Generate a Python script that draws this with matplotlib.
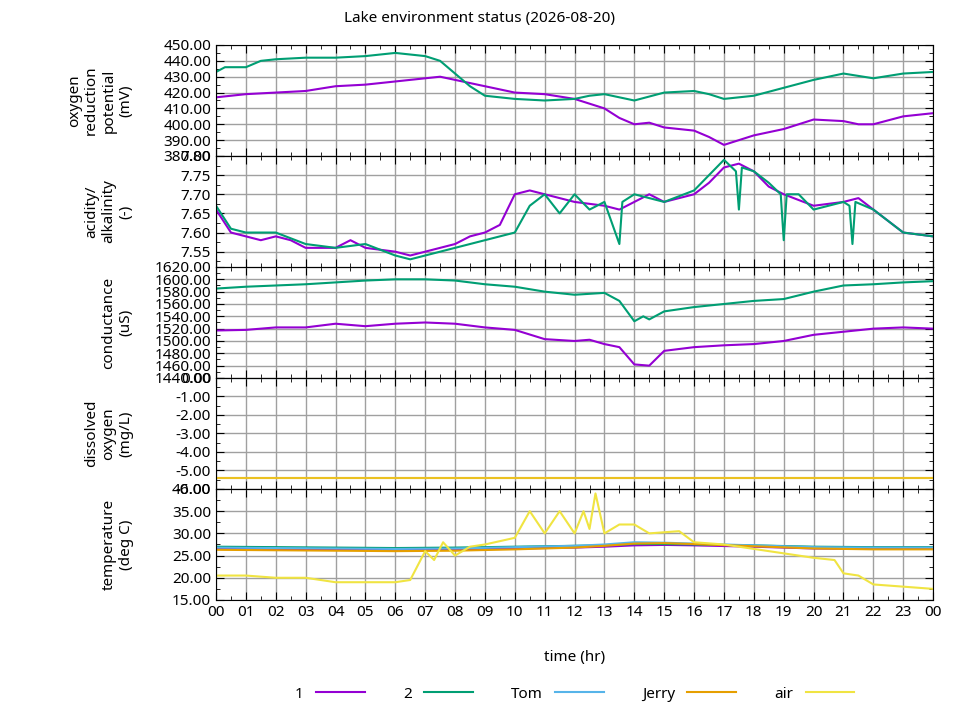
import numpy as np
import matplotlib.pyplot as plt
from matplotlib.ticker import MultipleLocator, AutoMinorLocator

plt.rcParams['font.family'] = ['Noto Sans', 'DejaVu Sans']
plt.rcParams['font.size'] = 11

COL_1 = "#9400D3"
COL_2 = "#009E73"
COL_TOM = "#56B4E9"
COL_JERRY = "#E69F00"
COL_AIR = "#F0E442"

# oxygen reduction potential (mV)
orp_t1 = [0, 0.5, 1, 2, 3, 4, 5, 6, 7, 7.5, 8, 9, 10, 11, 12, 12.5, 13, 13.5, 14, 14.5, 15, 16, 16.5, 17, 17.5, 18, 19, 20, 21, 21.5, 22, 23, 24]
orp_1 = [417, 418, 419, 420, 421, 424, 425, 427, 429, 430, 428, 424, 420, 419, 416, 413, 410, 404, 400, 401, 398, 396, 392, 387, 390, 393, 397, 403, 402, 400, 400, 405, 407]
orp_t2 = [0, 0.3, 1, 1.5, 2, 3, 4, 5, 6, 7, 7.5, 8, 8.5, 9, 10, 11, 12, 12.5, 13, 14, 15, 16, 16.5, 17, 18, 19, 20, 21, 22, 23, 24]
orp_2 = [433, 436, 436, 440, 441, 442, 442, 443, 445, 443, 440, 432, 424, 418, 416, 415, 416, 418, 419, 415, 420, 421, 419, 416, 418, 423, 428, 432, 429, 432, 433]

# acidity / alkalinity (-)
ph_t1 = [0, 0.5, 1, 1.5, 2, 2.5, 3, 4, 4.5, 5, 6, 6.5, 7, 8, 8.5, 9, 9.5, 10, 10.5, 11, 12, 13, 13.5, 14, 14.5, 15, 16, 16.5, 17, 17.5, 18, 18.5, 19, 20, 21, 21.5, 22, 23, 24]
ph_1 = [7.66, 7.60, 7.59, 7.58, 7.59, 7.58, 7.56, 7.56, 7.58, 7.56, 7.55, 7.54, 7.55, 7.57, 7.59, 7.60, 7.62, 7.70, 7.71, 7.70, 7.68, 7.67, 7.66, 7.68, 7.70, 7.68, 7.70, 7.73, 7.77, 7.78, 7.76, 7.72, 7.70, 7.67, 7.68, 7.69, 7.66, 7.60, 7.59]
ph_t2 = [0, 0.5, 1, 2, 3, 4, 5, 6, 6.5, 7, 8, 9, 10, 10.5, 11, 11.5, 12, 12.5, 13, 13.5, 13.6, 14, 14.5, 15, 16, 16.5, 17, 17.4, 17.5, 17.6, 18, 18.5, 18.9, 19.0, 19.1, 19.5, 20, 21, 21.2, 21.3, 21.4, 22, 23, 24]
ph_2 = [7.67, 7.61, 7.60, 7.60, 7.57, 7.56, 7.57, 7.54, 7.53, 7.54, 7.56, 7.58, 7.60, 7.67, 7.70, 7.65, 7.70, 7.66, 7.68, 7.57, 7.68, 7.70, 7.69, 7.68, 7.71, 7.75, 7.79, 7.76, 7.66, 7.77, 7.76, 7.73, 7.70, 7.58, 7.70, 7.70, 7.66, 7.68, 7.67, 7.57, 7.68, 7.66, 7.60, 7.59]

# conductance (uS)
cond_t1 = [0, 1, 2, 3, 4, 5, 6, 7, 8, 9, 10, 11, 12, 12.5, 13, 13.5, 14, 14.5, 15, 16, 17, 18, 19, 20, 21, 22, 23, 24]
cond_1 = [1517, 1518, 1522, 1522, 1528, 1524, 1528, 1530, 1528, 1522, 1518, 1503, 1500, 1502, 1495, 1490, 1462, 1460, 1484, 1490, 1493, 1495, 1500, 1510, 1515, 1520, 1522, 1520]
cond_t2 = [0, 1, 2, 3, 4, 5, 6, 7, 8, 9, 10, 11, 12, 13, 13.5, 14, 14.3, 14.5, 15, 16, 17, 18, 19, 20, 21, 22, 23, 24]
cond_2 = [1585, 1588, 1590, 1592, 1595, 1598, 1600, 1600, 1598, 1592, 1588, 1580, 1575, 1578, 1565, 1532, 1540, 1535, 1548, 1555, 1560, 1565, 1568, 1580, 1590, 1592, 1595, 1597]

# dissolved oxygen (mg/L)
do_t = [0, 24]
do_tom = [0.0, 0.0]
do_jerry = [-5.4, -5.4]
do_air = [-5.4, -5.4]

# temperature (deg C)
temp_t = [0, 2, 4, 6, 8, 10, 12, 13, 14, 15, 16, 18, 20, 22, 24]
temp_1 = [26.6, 26.5, 26.4, 26.3, 26.4, 26.6, 26.8, 27.0, 27.3, 27.4, 27.3, 27.0, 26.6, 26.5, 26.5]
temp_2 = [27.0, 26.9, 26.8, 26.7, 26.8, 27.0, 27.2, 27.3, 27.6, 27.6, 27.5, 27.3, 27.0, 26.9, 26.9]
temp_tom = [26.8, 26.7, 26.6, 26.5, 26.6, 26.9, 27.2, 27.5, 28.0, 27.9, 27.7, 27.3, 26.9, 26.8, 26.8]
temp_jerry = [26.3, 26.2, 26.1, 26.0, 26.1, 26.4, 26.8, 27.2, 27.7, 27.8, 27.6, 27.1, 26.6, 26.4, 26.4]
air_t = [0, 1, 2, 3, 4, 5, 6, 6.5, 7, 7.3, 7.6, 8, 8.5, 9, 10, 10.5, 11, 11.5, 12, 12.3, 12.5, 12.7, 13, 13.5, 14, 14.5, 15.5, 16, 17, 18, 19, 20, 20.7, 21, 21.5, 22, 23, 24]
air = [20.5, 20.5, 20.0, 20.0, 19.0, 19.0, 19.0, 19.5, 26.0, 24.0, 28.0, 25.0, 27.0, 27.5, 29.0, 35.0, 30.0, 35.0, 30.0, 35.0, 31.0, 39.0, 30.0, 32.0, 32.0, 30.0, 30.5, 28.0, 27.5, 26.5, 25.5, 24.5, 24.0, 21.0, 20.5, 18.5, 18.0, 17.5]

fig, axes = plt.subplots(5, 1, figsize=(9.6, 7.2), dpi=100, sharex=True)
fig.subplots_adjust(left=0.225, right=0.972, top=0.9375, bottom=0.1667, hspace=0)

info = [
    ("oxygen\nreduction\npotential\n(mV)", (380, 450), 10),
    ("acidity/\nalkalinity\n(-)", (7.51, 7.80), 0.05),
    ("conductance\n(uS)", (1440, 1620), 20),
    ("dissolved\noxygen\n(mg/L)", (-6, 0), 1),
    ("temperature\n(deg C)", (15, 40), 5),
]

lw = 1.5
axes[0].plot(orp_t1, orp_1, color=COL_1, lw=lw)
axes[0].plot(orp_t2, orp_2, color=COL_2, lw=lw)
axes[1].plot(ph_t1, ph_1, color=COL_1, lw=lw)
axes[1].plot(ph_t2, ph_2, color=COL_2, lw=lw)
axes[2].plot(cond_t1, cond_1, color=COL_1, lw=lw)
axes[2].plot(cond_t2, cond_2, color=COL_2, lw=lw)
axes[3].plot(do_t, do_tom, color=COL_TOM, lw=lw)
axes[3].plot(do_t, do_jerry, color=COL_JERRY, lw=lw)
axes[3].plot(do_t, do_air, color=COL_AIR, lw=lw, alpha=0.5)
axes[4].plot(temp_t, temp_1, color=COL_1, lw=lw, label="1")
axes[4].plot(temp_t, temp_2, color=COL_2, lw=lw, label="2")
axes[4].plot(temp_t, temp_tom, color=COL_TOM, lw=lw, label="Tom")
axes[4].plot(temp_t, temp_jerry, color=COL_JERRY, lw=lw, label="Jerry")
axes[4].plot(air_t, air, color=COL_AIR, lw=lw, label="air")

for ax, (ylabel, ylim, step) in zip(axes, info):
    ax.set_ylim(*ylim)
    ax.set_xlim(0, 24)
    ax.yaxis.set_major_locator(MultipleLocator(step))
    ax.yaxis.set_minor_locator(AutoMinorLocator(2))
    ax.yaxis.set_major_formatter(plt.FormatStrFormatter("%.2f"))
    ax.xaxis.set_major_locator(MultipleLocator(1))
    ax.xaxis.set_minor_locator(AutoMinorLocator(2))
    ax.grid(True, which="major", color="#a0a0a0", lw=1)
    ax.tick_params(which="both", direction="in", top=True, right=True, labelsize=11)
    ax.tick_params(which="major", length=6)
    ax.tick_params(which="minor", length=3)
    ax.set_ylabel(ylabel, fontsize=11)
    ax.yaxis.set_label_coords(-0.115, 0.5)

axes[4].set_xticks(range(25))
axes[4].set_xticklabels(["%02d" % (h % 24) for h in range(25)])
axes[4].set_xlabel("time (hr)", labelpad=22)

fig.suptitle("Lake environment status (2026-08-20)", fontsize=11, y=0.985)
axes[4].legend(loc="center", bbox_to_anchor=(0.5, -0.85), ncol=5, frameon=False,
               markerfirst=False, handlelength=3.2, columnspacing=2.5, fontsize=11)

fig.savefig("out.png", dpi=100)
